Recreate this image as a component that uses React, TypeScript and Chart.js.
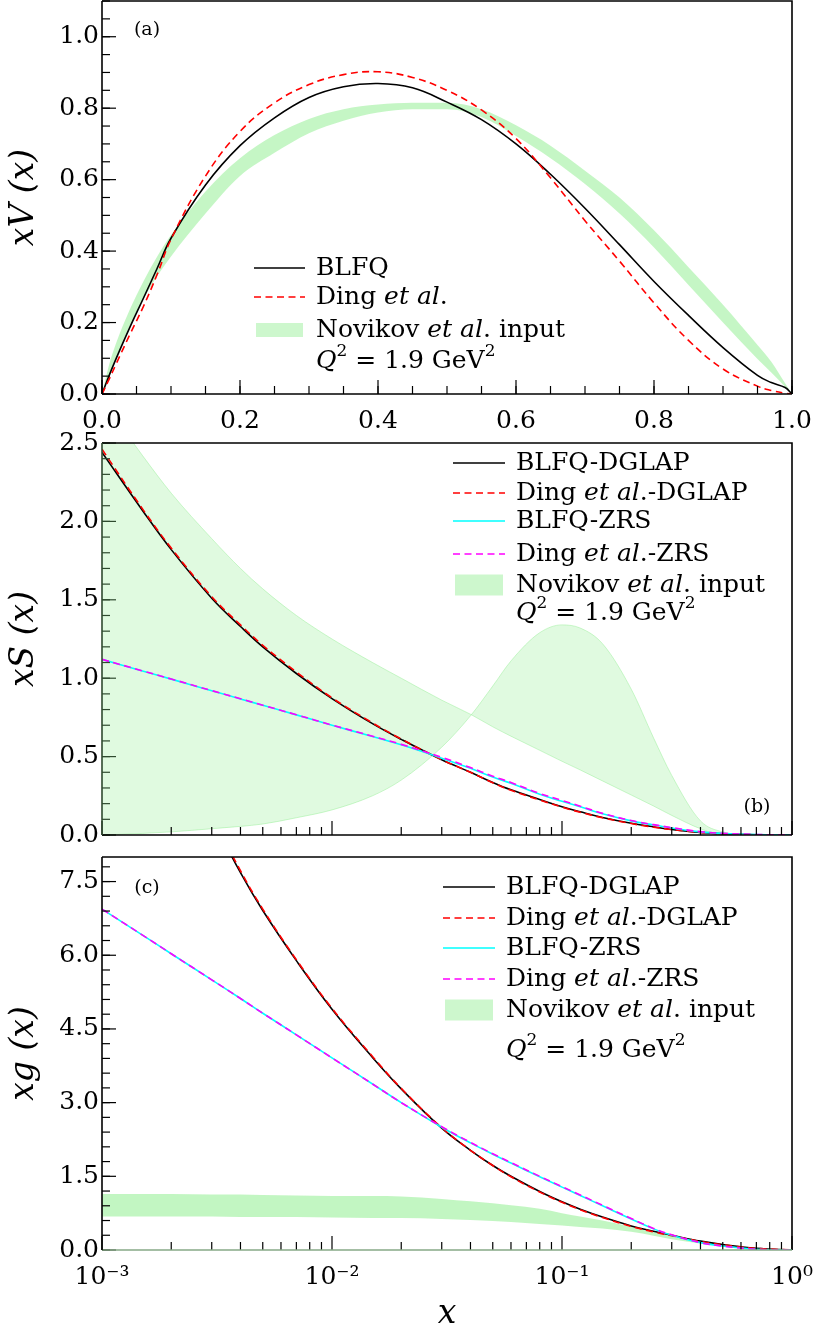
import React, { useEffect, useRef } from 'react';
import { Chart, registerables } from 'chart.js';

Chart.register(...registerables);

const FONT = '"DejaVu Serif", "Liberation Serif", serif';
const W = 813;

// ---------------- Panel (a): xV(x), linear x ----------------
const X_A = [0, 0.01, 0.02, 0.04, 0.06, 0.08, 0.1, 0.15, 0.2, 0.25, 0.3, 0.35, 0.4, 0.45, 0.5, 0.55, 0.6, 0.65, 0.7, 0.75, 0.8, 0.85, 0.9, 0.95, 0.97, 0.99, 1.0];
const BLFQ_A = [0, 0.05, 0.097, 0.185, 0.268, 0.352, 0.436, 0.585, 0.695, 0.773, 0.83, 0.86, 0.869, 0.857, 0.817, 0.768, 0.70, 0.615, 0.52, 0.418, 0.315, 0.22, 0.13, 0.052, 0.032, 0.018, 0];
const DING_A = [0, 0.04, 0.082, 0.165, 0.245, 0.335, 0.433, 0.61, 0.735, 0.815, 0.866, 0.894, 0.902, 0.886, 0.85, 0.795, 0.715, 0.605, 0.485, 0.372, 0.255, 0.15, 0.07, 0.022, 0.01, 0.002, 0];
const NOV_UP_A = [0, 0.08, 0.14, 0.235, 0.315, 0.385, 0.445, 0.567, 0.66, 0.725, 0.77, 0.797, 0.81, 0.815, 0.815, 0.797, 0.752, 0.695, 0.625, 0.55, 0.458, 0.355, 0.25, 0.137, 0.09, 0.03, 0];
const NOV_LO_A = [0, 0.05, 0.10, 0.19, 0.265, 0.33, 0.385, 0.505, 0.61, 0.675, 0.73, 0.765, 0.788, 0.797, 0.797, 0.775, 0.722, 0.66, 0.588, 0.505, 0.41, 0.305, 0.2, 0.098, 0.06, 0.02, 0];
const X_TICKS_A = [0, 0.2, 0.4, 0.6, 0.8, 1.0];
const Y_TICKS_A = [0, 0.2, 0.4, 0.6, 0.8, 1.0];

// ---------------- Panel (b): xS(x), log x ----------------
const X_B = [0.001, 0.0015, 0.002, 0.003, 0.004, 0.005, 0.007, 0.01, 0.015, 0.02, 0.03, 0.04, 0.05, 0.06, 0.08, 0.1, 0.12, 0.15, 0.2, 0.25, 0.3, 0.4, 0.5, 0.7, 1.0];
const BLFQ_DGLAP_B = [2.44, 2.07, 1.82, 1.51, 1.33, 1.20, 1.03, 0.87, 0.71, 0.61, 0.48, 0.40, 0.335, 0.288, 0.226, 0.18, 0.148, 0.112, 0.075, 0.052, 0.036, 0.017, 0.008, 0.002, 0];
const DING_DGLAP_B = [2.46, 2.08, 1.83, 1.52, 1.34, 1.21, 1.04, 0.875, 0.715, 0.612, 0.48, 0.40, 0.333, 0.285, 0.223, 0.178, 0.145, 0.11, 0.073, 0.05, 0.035, 0.016, 0.007, 0.002, 0];
const BLFQ_ZRS_B = [1.12, 1.046, 0.994, 0.92, 0.868, 0.827, 0.766, 0.70, 0.628, 0.575, 0.49, 0.425, 0.37, 0.33, 0.26, 0.215, 0.18, 0.135, 0.09, 0.064, 0.045, 0.02, 0.01, 0.003, 0];
const DING_ZRS_B = [1.12, 1.047, 0.995, 0.921, 0.869, 0.828, 0.767, 0.701, 0.63, 0.578, 0.495, 0.43, 0.375, 0.335, 0.265, 0.22, 0.184, 0.138, 0.092, 0.066, 0.047, 0.021, 0.011, 0.003, 0];
const NOV_1_B = [2.78, 2.42, 2.18, 1.89, 1.70, 1.57, 1.40, 1.25, 1.10, 1.0, 0.86, 0.77, 0.69, 0.63, 0.54, 0.47, 0.415, 0.345, 0.255, 0.185, 0.125, 0.04, 0, 0, 0];
const NOV_2_B = [0, 0.01, 0.02, 0.04, 0.055, 0.07, 0.11, 0.16, 0.25, 0.35, 0.56, 0.76, 0.95, 1.11, 1.29, 1.34, 1.32, 1.22, 0.93, 0.62, 0.38, 0.09, 0.02, 0, 0];
const Y_TICKS_B = [0, 0.5, 1.0, 1.5, 2.0, 2.5];

// ---------------- Panel (c): xg(x), log x ----------------
const X_C = [0.001, 0.0015, 0.002, 0.003, 0.004, 0.005, 0.007, 0.01, 0.015, 0.02, 0.03, 0.04, 0.05, 0.06, 0.08, 0.1, 0.12, 0.15, 0.2, 0.25, 0.3, 0.4, 0.5, 0.7, 1.0];
const BLFQ_DGLAP_C = [null, null, null, 8.8, 7.68, 6.91, 5.89, 4.9, 3.92, 3.28, 2.48, 2.03, 1.72, 1.50, 1.19, 0.98, 0.83, 0.67, 0.49, 0.38, 0.30, 0.18, 0.11, 0.035, 0];
const DING_DGLAP_C = [null, null, null, 8.85, 7.72, 6.94, 5.91, 4.92, 3.94, 3.29, 2.49, 2.03, 1.72, 1.49, 1.18, 0.97, 0.82, 0.66, 0.48, 0.37, 0.29, 0.175, 0.105, 0.033, 0];
const BLFQ_ZRS_C = [6.94, 6.41, 6.03, 5.50, 5.12, 4.82, 4.38, 3.91, 3.38, 3.0, 2.50, 2.18, 1.95, 1.77, 1.49, 1.28, 1.11, 0.90, 0.63, 0.43, 0.30, 0.15, 0.08, 0.015, 0];
const DING_ZRS_C = [6.94, 6.41, 6.03, 5.50, 5.12, 4.82, 4.38, 3.91, 3.38, 3.0, 2.51, 2.19, 1.96, 1.78, 1.50, 1.29, 1.12, 0.91, 0.64, 0.44, 0.31, 0.15, 0.08, 0.015, 0];
const NOV_UP_C = [1.14, 1.14, 1.14, 1.13, 1.13, 1.12, 1.11, 1.10, 1.10, 1.09, 1.04, 0.99, 0.95, 0.91, 0.84, 0.75, 0.68, 0.60, 0.47, 0.36, 0.30, 0.19, 0.12, 0.03, 0];
const NOV_LO_C = [0.68, 0.68, 0.68, 0.68, 0.67, 0.67, 0.67, 0.66, 0.65, 0.65, 0.63, 0.61, 0.59, 0.57, 0.53, 0.50, 0.47, 0.44, 0.37, 0.29, 0.22, 0.13, 0.07, 0.01, 0];
const Y_TICKS_C = [0, 1.5, 3.0, 4.5, 6.0, 7.5];

const LOG_DECADES = [0.001, 0.01, 0.1, 1];
const LOG_LABELS: Record<string, string> = { '0.001': '10⁻³', '0.01': '10⁻²', '0.1': '10⁻¹', '1': '10⁰' };

// ---------- tick mark positions (axis values) ----------
function steps(from: number, to: number, step: number) {
  const out: number[] = [];
  for (let v = from; v <= to + 1e-9; v += step) out.push(Math.round(v * 1e6) / 1e6);
  return out;
}
const LOG_MINOR: number[] = [];
[0.001, 0.01, 0.1].forEach((d) => { for (let k = 2; k <= 9; k++) LOG_MINOR.push(d * k); });

// ---------- helpers ----------
const pts = (xs: number[], ys: (number | null)[]) => xs.map((x, i) => ({ x, y: ys[i] }));

function lineDs(label: string, xs: number[], ys: (number | null)[], color: string, dashed: boolean, order: number) {
  return {
    label, data: pts(xs, ys), borderColor: color, backgroundColor: color, borderWidth: 1.6,
    borderDash: dashed ? [7, 4.5] : [], pointRadius: 0, fill: false,
    tension: 0.4, order, legendKind: 'line',
  };
}
function bandDs(label: string, xs: number[], a: number[], b: number[], fillColor: string, edge: string | null, legendColor: string) {
  return [
    { label, data: pts(xs, a), borderColor: edge || 'rgba(0,0,0,0)', borderWidth: edge ? 1 : 0, backgroundColor: fillColor,
      fill: '+1', pointRadius: 0, cubicInterpolationMode: 'monotone', order: 20, legendKind: 'patch', legendColor },
    { label: '', data: pts(xs, b), borderColor: edge || 'rgba(0,0,0,0)', borderWidth: edge ? 1 : 0, backgroundColor: fillColor,
      fill: false, pointRadius: 0, cubicInterpolationMode: 'monotone', order: 20, legendKind: 'none' },
  ];
}

type Part = { t: string; it?: boolean; sup?: boolean };
function drawRich(ctx: CanvasRenderingContext2D, x: number, y: number, parts: Part[], size: number) {
  let cx = x;
  for (const p of parts) {
    const fs = p.sup ? Math.round(size * 0.68) : size;
    ctx.font = `${p.it ? 'italic ' : ''}${fs}px ${FONT}`;
    ctx.fillText(p.t, cx, y + (p.sup ? -size * 0.36 : 0));
    cx += ctx.measureText(p.t).width;
  }
}
function labelParts(label: string): Part[] {
  return label.split(/(et al)/).filter((s) => s.length).map((s) => ({ t: s, it: s === 'et al' }));
}

const decor = {
  id: 'decor',
  afterDatasetsDraw(chart: any, _args: any, o: any) {
    const ctx: CanvasRenderingContext2D = chart.ctx;
    const { left, right, top, bottom } = chart.chartArea;
    const xs = chart.scales.x, ys = chart.scales.y;
    ctx.save();
    ctx.lineWidth = 1.2;
    const tickX = (vals: number[], len: number) => vals.forEach((v) => {
      const p = xs.getPixelForValue(v);
      if (p < left - 0.5 || p > right + 0.5) return;
      ctx.beginPath(); ctx.moveTo(p, bottom); ctx.lineTo(p, bottom - len); ctx.stroke();
    });
    const tickY = (vals: number[], len: number) => vals.forEach((v) => {
      const p = ys.getPixelForValue(v);
      if (p < top - 0.5 || p > bottom + 0.5) return;
      ctx.beginPath(); ctx.moveTo(left, p); ctx.lineTo(left + len, p); ctx.stroke();
    });
    ctx.strokeStyle = '#000';
    tickX(o.xMajor, 14); tickX(o.xMinor, 8);
    ctx.strokeStyle = o.leftColor || '#000';
    tickY(o.yMajor, 14); tickY(o.yMinor, 8);

    // frame
    ctx.lineWidth = 1.6;
    ctx.strokeStyle = '#000';
    ctx.beginPath(); ctx.moveTo(left, top); ctx.lineTo(right, top); ctx.lineTo(right, bottom); ctx.stroke();
    ctx.strokeStyle = o.bottomColor || '#000';
    ctx.beginPath(); ctx.moveTo(left, bottom); ctx.lineTo(right, bottom); ctx.stroke();
    ctx.strokeStyle = o.leftColor || '#000';
    ctx.beginPath(); ctx.moveTo(left, top); ctx.lineTo(left, bottom); ctx.stroke();

    // legend
    const lg = o.legend;
    ctx.fillStyle = '#000';
    ctx.textBaseline = 'middle';
    ctx.textAlign = 'left';
    let row = 0;
    chart.data.datasets.forEach((ds: any) => {
      if (!ds.label || ds.legendKind === 'none') return;
      const y = lg.rows[row++];
      if (ds.legendKind === 'line') {
        ctx.save();
        ctx.strokeStyle = ds.borderColor;
        ctx.lineWidth = 1.6;
        ctx.setLineDash(ds.borderDash || []);
        ctx.beginPath(); ctx.moveTo(lg.sx0, y); ctx.lineTo(lg.sx1, y); ctx.stroke();
        ctx.restore();
      } else {
        ctx.fillStyle = ds.legendColor;
        ctx.fillRect(lg.sx0 + 2, y - lg.patchH / 2, lg.sx1 - lg.sx0 - 4, lg.patchH);
      }
      ctx.fillStyle = '#000';
      drawRich(ctx, lg.tx, y, labelParts(ds.label), lg.size);
    });
    drawRich(ctx, lg.tx, lg.noteY, [{ t: 'Q', it: true }, { t: '2', sup: true }, { t: ' = 1.9 GeV' }, { t: '2', sup: true }], lg.size);

    // panel label
    ctx.font = `${o.panel.size}px ${FONT}`;
    ctx.textAlign = 'center';
    ctx.fillText(o.panel.text, o.panel.x, o.panel.y);
    ctx.restore();
  },
};

const fixedY = (w: number) => (s: any) => { s.width = w; s.paddingTop = 0; s.paddingBottom = 0; s.paddingLeft = 0; s.paddingRight = 0; };
const fixedX = (h: number) => (s: any) => { s.height = h; s.paddingTop = 0; s.paddingBottom = 0; s.paddingLeft = 0; s.paddingRight = 0; };

const tickFont = { family: FONT, size: 25 };
const titleFont = { family: FONT, size: 33, style: 'italic' as const };

function yScale(max: number, ticks: number[], title: string) {
  return {
    type: 'linear', min: 0, max,
    afterBuildTicks: (s: any) => { s.ticks = ticks.map((v) => ({ value: v })); },
    ticks: { callback: (v: any) => Number(v).toFixed(1), font: tickFont, color: '#000', padding: 3, autoSkip: false },
    grid: { display: false, drawTicks: false }, border: { display: false },
    title: { display: true, text: title, font: titleFont, color: '#000', padding: { top: 5, bottom: 0 } },
    afterFit: fixedY(102),
  };
}

function logX(height: number, showLabels: boolean, title?: string) {
  return {
    type: 'logarithmic', min: 0.001, max: 1,
    afterBuildTicks: (s: any) => { s.ticks = LOG_DECADES.map((v) => ({ value: v })); },
    ticks: {
      display: showLabels, callback: (v: any) => LOG_LABELS[String(Number(v))] || '',
      font: tickFont, color: '#000', padding: 12, autoSkip: false, maxRotation: 0,
    },
    grid: { display: false, drawTicks: false }, border: { display: false },
    title: title ? { display: true, text: title, font: titleFont, color: '#000', padding: { top: 0, bottom: 0 } } : { display: false },
    afterFit: fixedX(height),
  };
}

const basePlugins = { legend: { display: false }, tooltip: { enabled: false } };
const LEG_SIZE = 25;

const configA = () => ({
  type: 'line',
  data: {
    datasets: [
      lineDs('BLFQ', X_A, BLFQ_A, '#000000', false, 2),
      lineDs('Ding et al.', X_A, DING_A, '#ff0000', true, 1),
      ...bandDs('Novikov et al. input', X_A, NOV_UP_A, NOV_LO_A, 'rgba(144,238,144,0.52)', null, 'rgba(144,238,144,0.45)'),
    ],
  },
  options: {
    responsive: false, animation: false, devicePixelRatio: 1,
    layout: { padding: { left: 0, right: 21, top: 1, bottom: 0 } },
    plugins: {
      ...basePlugins,
      decor: {
        xMajor: X_TICKS_A, xMinor: steps(0, 1, 0.05), yMajor: Y_TICKS_A, yMinor: steps(0, 1.1, 0.05),
        legend: { sx0: 254, sx1: 305, tx: 316, rows: [268, 297, 330], noteY: 361, patchH: 14, size: LEG_SIZE },
        panel: { text: '(a)', x: 147, y: 30, size: 19 },
      },
    },
    scales: {
      x: {
        type: 'linear', min: 0, max: 1,
        afterBuildTicks: (s: any) => { s.ticks = X_TICKS_A.map((v) => ({ value: v })); },
        ticks: { callback: (v: any) => Number(v).toFixed(1), font: tickFont, color: '#000', padding: 12, autoSkip: false, maxRotation: 0 },
        grid: { display: false, drawTicks: false }, border: { display: false },
        afterFit: fixedX(46),
      },
      y: yScale(1.1, Y_TICKS_A, 'xV (x)'),
    },
  },
  plugins: [decor],
});

const configB = () => ({
  type: 'line',
  data: {
    datasets: [
      lineDs('BLFQ-DGLAP', X_B, BLFQ_DGLAP_B, '#000000', false, 4),
      lineDs('Ding et al.-DGLAP', X_B, DING_DGLAP_B, '#ff0000', true, 3),
      lineDs('BLFQ-ZRS', X_B, BLFQ_ZRS_B, '#00ffff', false, 2),
      lineDs('Ding et al.-ZRS', X_B, DING_ZRS_B, '#ff00ff', true, 1),
      ...bandDs('Novikov et al. input', X_B, NOV_1_B, NOV_2_B, 'rgba(144,238,144,0.28)', 'rgba(144,238,144,0.45)', 'rgba(144,238,144,0.45)'),
    ],
  },
  options: {
    responsive: false, animation: false, devicePixelRatio: 1,
    layout: { padding: { left: 0, right: 21, top: 23, bottom: 0 } },
    plugins: {
      ...basePlugins,
      decor: {
        xMajor: LOG_DECADES, xMinor: LOG_MINOR, yMajor: Y_TICKS_B, yMinor: steps(0, 2.5, 0.1),
        legend: { sx0: 453, sx1: 505, tx: 516, rows: [43, 73, 101, 134, 165], noteY: 193, patchH: 21, size: LEG_SIZE },
        panel: { text: '(b)', x: 757, y: 387, size: 19 },
        leftColor: '#2f4a2f',
      },
    },
    scales: { x: logX(10, false), y: yScale(2.5, Y_TICKS_B, 'xS (x)') },
  },
  plugins: [decor],
});

const configC = () => ({
  type: 'line',
  data: {
    datasets: [
      lineDs('BLFQ-DGLAP', X_C, BLFQ_DGLAP_C, '#000000', false, 4),
      lineDs('Ding et al.-DGLAP', X_C, DING_DGLAP_C, '#ff0000', true, 3),
      lineDs('BLFQ-ZRS', X_C, BLFQ_ZRS_C, '#00ffff', false, 2),
      lineDs('Ding et al.-ZRS', X_C, DING_ZRS_C, '#ff00ff', true, 1),
      ...bandDs('Novikov et al. input', X_C, NOV_UP_C, NOV_LO_C, 'rgba(144,238,144,0.55)', null, 'rgba(144,238,144,0.45)'),
    ],
  },
  options: {
    responsive: false, animation: false, devicePixelRatio: 1,
    layout: { padding: { left: 0, right: 21, top: 12, bottom: 0 } },
    plugins: {
      ...basePlugins,
      decor: {
        xMajor: LOG_DECADES, xMinor: LOG_MINOR, yMajor: Y_TICKS_C, yMinor: steps(0, 8, 0.3),
        legend: { sx0: 443, sx1: 495, tx: 506, rows: [42, 73, 103, 134, 165], noteY: 205, patchH: 21, size: LEG_SIZE },
        panel: { text: '(c)', x: 147, y: 43, size: 19 },
        bottomColor: '#86a886',
      },
    },
    scales: { x: logX(84, true, 'x'), y: yScale(8, Y_TICKS_C, 'xg (x)') },
  },
  plugins: [decor],
});

function Panel({ make, top, height }: { make: () => any; top: number; height: number }) {
  const ref = useRef<HTMLCanvasElement>(null);
  useEffect(() => {
    const chart = new Chart(ref.current as HTMLCanvasElement, make());
    return () => chart.destroy();
  }, []);
  return (
    <canvas ref={ref} width={W} height={height}
      style={{ position: 'absolute', left: 0, top, width: W, height, display: 'block' }} />
  );
}

export default function App() {
  return (
    <div style={{ position: 'absolute', left: 0, top: 0, width: W, height: 1334, background: '#fff' }}>
      <Panel make={configA} top={0} height={440} />
      <Panel make={configB} top={420} height={425} />
      <Panel make={configC} top={845} height={489} />
    </div>
  );
}
